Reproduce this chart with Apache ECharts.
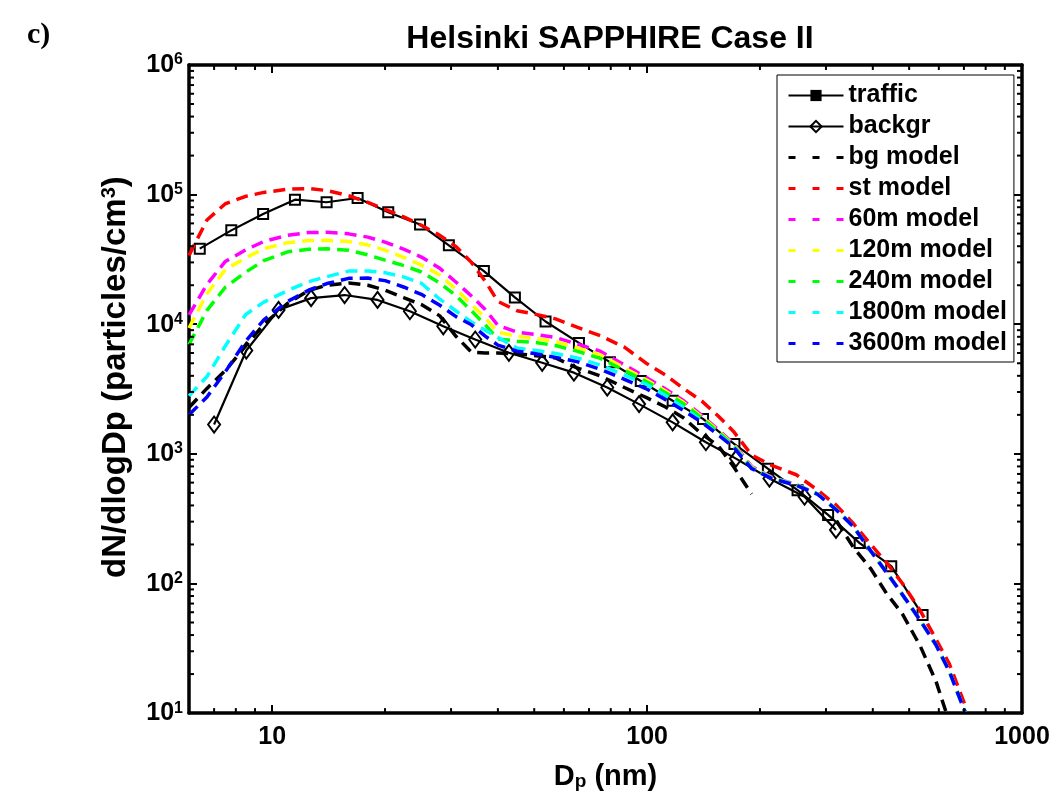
<!DOCTYPE html>
<html lang="en">
<head>
	<meta charset="utf-8">
	<title>Helsinki SAPPHIRE Case II</title>
	<script type="text/javascript" src="https://cdn.jsdelivr.net/npm/echarts@6/dist/echarts.min.js"></script>
	<style type="text/css">
		html, body { margin: 0; padding: 0; background: #fff; }
		#chartmain { width: 1055px; height: 796px; }
	</style>
</head>
<body>
	<div id="chartmain"></div>
	<script type="text/javascript">

	// measured size distributions (Dp in nm, dN/dlogDp in particles/cm3)
	var trafficDp = [6.41, 7.78, 9.46, 11.5, 13.97, 16.9, 20.4, 24.8, 29.6, 36.7, 44.4, 53.6, 65.8, 79.6, 96.2, 117, 141, 171, 210, 252, 304, 369, 448, 543];
	var trafficN  = [38300, 53000, 71000, 91400, 87300, 94200, 73200, 58800, 40600, 25700, 16100, 10500, 7180, 5100, 3650, 2570, 1860, 1190, 769, 525, 338, 205, 136, 57];

	var backgrDp = [7.0, 8.53, 10.4, 12.7, 15.6, 19.1, 23.3, 28.6, 34.8, 42.8, 52.5, 63.8, 78.3, 95.2, 117, 143.5, 172.6, 212, 263, 319];
	var backgrN  = [1683, 6270, 12900, 15900, 16800, 15400, 12600, 9640, 7620, 6020, 5040, 4230, 3250, 2420, 1750, 1230, 919, 645, 467, 259];

	// model curves, all on one Dp grid
	var modelDp = [6, 6.7, 7.5, 8.5, 9.5, 11, 12.5, 14, 16, 18, 20, 22.5, 25, 28, 31, 34, 37, 40, 45, 50, 57, 65, 75, 87, 100, 112, 125, 140, 155, 170, 190, 215, 250, 285, 320, 355, 395, 435, 480, 535, 590, 640, 705];

	var bgModel   = [2280, 3200, 4400, 6800, 10000, 14500, 18200, 20000, 20800, 20000, 18300, 16000, 14200, 11600, 8000, 6100, 6000, 6000, 5900, 5750, 5500, 4600, 4000, 3250, 2700, 2300, 1900, 1420, 1150, 800, 490, '-', '-', '-', 305, 190, 130, 84, 58, 33, 17.5, 8.5, '-'];
	var stModel   = [34000, 63700, 85000, 97000, 104000, 110000, 111500, 107500, 98000, 87000, 77000, 67000, 58000, 48500, 39500, 30000, 21500, 15000, 12700, 12000, 11000, 9500, 8150, 6650, 4950, 4050, 3200, 2550, 1950, 1490, 980, 815, 690, 525, 400, 290, 200, 145, 100, 62, 37, 24, 11.5];
	var m60Model  = [11800, 20300, 30500, 37500, 43500, 48500, 51000, 51200, 49800, 47000, 43000, 37800, 33000, 27000, 21000, 16500, 13000, 9800, 8700, 8350, 7900, 7050, 6200, 4850, 3850, 3160, 2580, 1980, 1530, 1200, 800, 660, 580, 490, 372, 275, 178, 122, 82, 52, 33.5, 21, 10.2];
	var m120Model = [9350, 17200, 26400, 32500, 38300, 42600, 44200, 44400, 43500, 40800, 37300, 32700, 28600, 24000, 18500, 14200, 11200, 8700, 8050, 7800, 7350, 6600, 5800, 4600, 3700, 3050, 2500, 1930, 1500, 1180, 790, 655, 578, 490, 372, 275, 178, 122, 82, 52, 33.5, 21, 10.2];
	var m240Model = [6970, 12800, 19300, 25200, 31000, 36200, 37900, 38300, 37200, 34300, 31200, 28300, 25300, 20800, 16500, 12700, 9900, 7700, 7400, 7250, 6850, 6200, 5450, 4400, 3580, 2960, 2440, 1890, 1470, 1160, 780, 650, 576, 490, 372, 275, 178, 122, 82, 52, 33.5, 21, 10.2];
	var m1800Model = [2800, 3950, 6800, 11900, 14800, 18200, 21300, 23300, 25700, 25800, 25000, 23100, 20700, 15600, 12600, 10400, 9000, 7900, 6550, 6300, 5950, 5500, 4850, 4050, 3420, 2820, 2280, 1800, 1420, 1140, 775, 648, 574, 490, 370, 275, 178, 122, 82, 52, 33.5, 21, 10.2];
	var m3600Model = [2000, 2750, 4300, 7400, 10800, 15000, 18300, 20600, 22600, 22700, 21700, 19300, 17000, 14000, 11400, 9900, 8100, 6900, 6200, 5950, 5550, 5150, 4500, 3760, 3150, 2620, 2160, 1750, 1400, 1130, 770, 645, 572, 488, 369, 275, 178, 122, 82, 52, 33.5, 21, 10.2];

	// axis ranges and minor tick values
	var X_MIN = 6, X_MAX = 1000;
	var Y_MIN = 10, Y_MAX = 1e6;
	var xMinorTicks = [7, 8, 9, 20, 30, 40, 50, 60, 70, 80, 90, 200, 300, 400, 500, 600, 700, 800, 900];
	var yMinorTicks = [];
	[10, 100, 1000, 10000, 100000].forEach(function (d) {
		for (var k = 2; k <= 9; k++) yMinorTicks.push(d * k);
	});

	var FONT = '"Liberation Sans", Arial, Helvetica, sans-serif';

	function pairs(xs, ys) {
		return xs.map(function (x, i) { return [x, ys[i]]; });
	}

	function modelSeries(name, color, ys) {
		return {
			name: name,
			type: 'line',
			data: pairs(modelDp, ys),
			symbol: 'none',
			connectNulls: false,
			lineStyle: { color: color, width: 3.5, type: [12, 7] },
			itemStyle: { color: color },
			emphasis: { disabled: true },
			z: 3
		};
	}

	// legend entry for a dashed model: line only, shorter dashes like the original key
	function modelLegend(name) {
		return { name: name, itemStyle: { opacity: 0 }, lineStyle: { type: [7, 17], width: 3 } };
	}

	var myChart = echarts.init(document.getElementById('chartmain'), null, { renderer: 'canvas' });

	var option = {
		animation: false,
		backgroundColor: '#fff',
		title: [{
			text: 'Helsinki SAPPHIRE Case II',
			left: 605,
			textAlign: 'center',
			top: 18,
			textStyle: { fontFamily: FONT, fontSize: 32, fontWeight: 'bold', color: '#000' }
		}, {
			text: 'c)',
			left: 22,
			top: 15,
			textStyle: { fontFamily: '"Liberation Serif", "Times New Roman", serif', fontSize: 30, fontWeight: 'bold', color: '#000' }
		}],
		grid: { left: 189, right: 33, top: 65, bottom: 78, containLabel: false },
		legend: {
			orient: 'vertical',
			left: 777,
			top: 75,
			padding: [8, 7, 6, 10],
			backgroundColor: '#fff',
			borderColor: '#000',
			borderWidth: 1,
			itemWidth: 55,
			itemHeight: 14,
			itemGap: 6,
			textStyle: { fontFamily: FONT, fontSize: 25, fontWeight: 'bold', color: '#000', lineHeight: 24 },
			data: [
				{ name: 'traffic', itemStyle: { color: '#000', borderWidth: 0 } },
				{ name: 'backgr' },
				modelLegend('bg model'),
				modelLegend('st model'),
				modelLegend('60m model'),
				modelLegend('120m model'),
				modelLegend('240m model'),
				modelLegend('1800m model'),
				modelLegend('3600m model')
			]
		},
		xAxis: [{
			type: 'log',
			logBase: 10,
			min: X_MIN,
			max: X_MAX,
			position: 'bottom',
			name: 'D{sub|p} (nm)',
			nameLocation: 'middle',
			nameGap: 36,
			nameTextStyle: {
				fontFamily: FONT, fontSize: 29, fontWeight: 'bold', color: '#000',
				rich: {
					sub: { fontFamily: FONT, fontSize: 19, fontWeight: 'bold', color: '#000', verticalAlign: 'bottom', lineHeight: 19, padding: [17, 0, 0, 0] }
				}
			},
			axisLine: { show: true, onZero: false, lineStyle: { color: '#000', width: 3.5 } },
			axisTick: { show: true, inside: true, length: 8, lineStyle: { color: '#000', width: 2 } },
			axisLabel: {
				margin: 12,
				fontFamily: FONT, fontSize: 25, fontWeight: 'bold', color: '#000',
				showMinLabel: false,
				formatter: function (v) {
					var e = Math.log10(v);
					return Math.abs(e - Math.round(e)) < 1e-6 ? String(Math.round(v)) : '';
				}
			},
			splitLine: { show: false }
		}, {
			type: 'log',
			logBase: 10,
			min: X_MIN,
			max: X_MAX,
			position: 'top',
			axisLine: { show: true, onZero: false, lineStyle: { color: '#000', width: 3.5 } },
			axisTick: { show: true, inside: true, length: 8, lineStyle: { color: '#000', width: 2 } },
			axisLabel: { show: false },
			splitLine: { show: false }
		}],
		yAxis: [{
			type: 'log',
			logBase: 10,
			min: Y_MIN,
			max: Y_MAX,
			position: 'left',
			name: 'dN/dlogDp (particles/cm{sup|3})',
			nameLocation: 'middle',
			nameRotate: 90,
			nameGap: 44,
			nameTextStyle: {
				fontFamily: FONT, fontSize: 33, fontWeight: 'bold', color: '#000',
				padding: [0, 0, 0, 24],
				rich: {
					sup: { fontFamily: FONT, fontSize: 20, fontWeight: 'bold', color: '#000', verticalAlign: 'top', lineHeight: 20, padding: [0, 0, 16, 0] }
				}
			},
			axisLine: { show: true, onZero: false, lineStyle: { color: '#000', width: 3.5 } },
			axisTick: { show: true, inside: true, length: 8, lineStyle: { color: '#000', width: 2 } },
			axisLabel: {
				margin: 6,
				formatter: function (v) {
					return '{b|10}{s|' + Math.round(Math.log10(v)) + '}';
				},
				rich: {
					b: { fontFamily: FONT, fontSize: 25, fontWeight: 'bold', color: '#000', verticalAlign: 'bottom', lineHeight: 26 },
					s: { fontFamily: FONT, fontSize: 16, fontWeight: 'bold', color: '#000', verticalAlign: 'top', lineHeight: 16, padding: [0, 0, 16, 0] }
				}
			},
			splitLine: { show: false }
		}, {
			type: 'log',
			logBase: 10,
			min: Y_MIN,
			max: Y_MAX,
			position: 'right',
			axisLine: { show: true, onZero: false, lineStyle: { color: '#000', width: 3.5 } },
			axisTick: { show: true, inside: true, length: 8, lineStyle: { color: '#000', width: 2 } },
			axisLabel: { show: false },
			splitLine: { show: false }
		}],
		series: [
			{
				name: 'traffic',
				type: 'line',
				data: pairs(trafficDp, trafficN),
				symbol: 'rect',
				symbolSize: 10,
				lineStyle: { color: '#000', width: 2.2 },
				itemStyle: { color: 'rgba(255,255,255,0)', borderColor: '#000', borderWidth: 2 },
				emphasis: { disabled: true },
				z: 2
			},
			{
				name: 'backgr',
				type: 'line',
				data: pairs(backgrDp, backgrN),
				symbol: 'diamond',
				symbolSize: [12, 16],
				lineStyle: { color: '#000', width: 2.2 },
				itemStyle: { color: 'rgba(255,255,255,0)', borderColor: '#000', borderWidth: 2 },
				emphasis: { disabled: true },
				z: 2
			},
			modelSeries('bg model', '#000000', bgModel),
			modelSeries('st model', '#ff0000', stModel),
			modelSeries('60m model', '#ff00ff', m60Model),
			modelSeries('120m model', '#ffff00', m120Model),
			modelSeries('240m model', '#00ff00', m240Model),
			modelSeries('1800m model', '#00ffff', m1800Model),
			modelSeries('3600m model', '#0000ff', m3600Model),
			{
				// log minor ticks on bottom and top edges
				type: 'custom',
				silent: true,
				clip: false,
				data: xMinorTicks.map(function (v) { return [v, Y_MIN]; }),
				encode: { x: 0, y: 1 },
				renderItem: function (params, api) {
					var v = api.value(0);
					var b = api.coord([v, Y_MIN]);
					var t = api.coord([v, Y_MAX]);
					return {
						type: 'group',
						children: [
							{ type: 'line', shape: { x1: b[0], y1: b[1], x2: b[0], y2: b[1] - 5 }, style: { stroke: '#000', lineWidth: 2 } },
							{ type: 'line', shape: { x1: t[0], y1: t[1], x2: t[0], y2: t[1] + 5 }, style: { stroke: '#000', lineWidth: 2 } }
						]
					};
				},
				z: 5
			},
			{
				// log minor ticks on left and right edges
				type: 'custom',
				silent: true,
				clip: false,
				data: yMinorTicks.map(function (v) { return [X_MIN, v]; }),
				encode: { x: 0, y: 1 },
				renderItem: function (params, api) {
					var v = api.value(1);
					var l = api.coord([X_MIN, v]);
					var r = api.coord([X_MAX, v]);
					return {
						type: 'group',
						children: [
							{ type: 'line', shape: { x1: l[0], y1: l[1], x2: l[0] + 5, y2: l[1] }, style: { stroke: '#000', lineWidth: 2 } },
							{ type: 'line', shape: { x1: r[0], y1: r[1], x2: r[0] - 5, y2: r[1] }, style: { stroke: '#000', lineWidth: 2 } }
						]
					};
				},
				z: 5
			}
		]
	};

	myChart.setOption(option);

	</script>
</body>
</html>
